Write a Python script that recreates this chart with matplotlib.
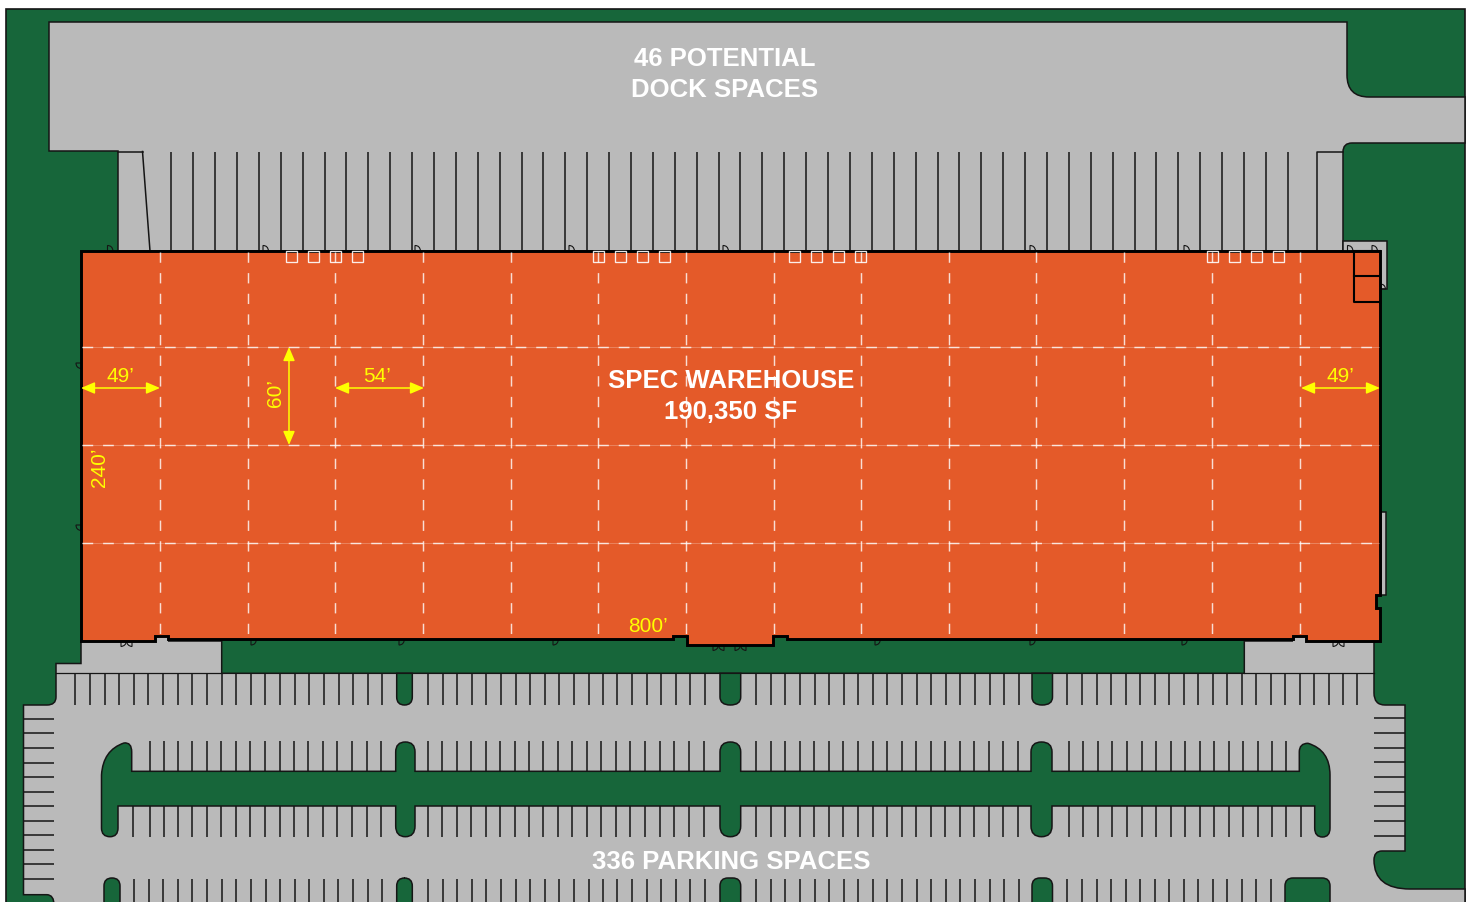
import matplotlib
matplotlib.use("Agg")
import matplotlib.pyplot as plt
from matplotlib.path import Path
from matplotlib.patches import PathPatch, Rectangle

plt.rcParams['font.family'] = ['Liberation Sans', 'DejaVu Sans']
plt.rcParams['lines.scale_dashes'] = False

GREEN = '#17663A'
GRAY = '#BABABA'
ORANGE = '#E45A29'
INK = '#151515'
YELLOW = '#FFFF00'

# dock-door separators along the north wall
dock_x = [171.3, 193.2, 215.1, 237.0, 258.9, 280.8, 302.6, 324.5, 346.4, 368.3, 390.2, 412.1, 434.0,
          455.9, 477.8, 499.7, 521.5, 543.4, 565.3, 587.2, 609.1, 631.0, 652.9, 674.8, 696.7, 718.6,
          740.4, 762.3, 784.2, 806.1, 828.0, 849.9, 871.8, 893.7, 915.6, 937.5, 959.3, 981.2, 1003.1,
          1025.0, 1046.9, 1068.8, 1090.7, 1112.6, 1134.5, 1156.4, 1178.2, 1200.1, 1222.0, 1243.9,
          1265.8, 1287.7]

# parking stall lines
span_b = [428.0, 442.6, 457.2, 471.8, 486.4, 501.0, 515.6, 530.2, 544.8, 559.4, 574.0, 588.6, 602.7,
          617.3, 632.0, 646.7, 661.0, 675.7, 690.3, 705.0]
span_c = [755.7, 770.7, 785.3, 800.0, 814.7, 829.0, 843.7, 858.3, 872.7, 887.3, 901.9, 916.5, 931.1,
          945.7, 960.3, 974.9, 989.5, 1004.1, 1018.7]
north_a = [75.3, 90.0, 104.5, 119.2, 133.8, 148.4, 163.0, 177.6, 192.3, 206.9, 221.5, 236.1, 250.7,
           265.4, 280.0, 294.6, 309.2, 323.8, 338.5, 353.1, 367.7, 382.3]
north_d = [1067.4, 1082.0, 1096.5, 1111.0, 1125.7, 1140.3, 1154.7, 1169.3, 1184.0, 1198.3, 1213.0,
           1227.3, 1242.0, 1256.3, 1271.0, 1285.3, 1299.7, 1314.0, 1328.7, 1343.0, 1357.0]
mid_a = [149.7, 164.0, 178.0, 192.3, 206.7, 221.3, 235.7, 250.3, 265.0, 279.7, 294.0, 308.3, 323.0,
         337.3, 352.0, 366.7, 381.3]
mid_b = [428.0, 442.4, 456.8, 471.3, 485.7, 500.1, 514.5, 529.0, 543.4, 557.8, 572.2, 586.6, 601.0,
         615.7, 630.3, 645.0, 659.7, 674.0, 688.7, 704.0]
mid_c = [755.7, 770.7, 785.3, 800.0, 814.3, 828.7, 843.3, 858.0, 872.7, 887.2, 901.7, 916.2, 930.7,
         945.2, 959.7, 974.2, 988.7, 1003.2, 1017.7]
mid_d = [1068.8, 1083.3, 1097.8, 1112.3, 1126.7, 1141.7, 1156.0, 1170.7, 1185.3, 1199.7, 1214.0,
         1228.7, 1243.3, 1257.7, 1272.3, 1286.0]
south_extra = [133.0, 1300.7]
bottom_a = [134.0, 148.7, 163.3, 178.0, 192.3, 206.7, 221.7, 236.0, 250.7, 265.7, 280.0, 294.7, 309.0,
            323.7, 338.3, 353.0, 367.7, 382.0]
bottom_d = [1067.4, 1082.0, 1096.5, 1111.0, 1125.7, 1140.3, 1154.7, 1169.3, 1184.0, 1198.3, 1213.0,
            1227.3, 1242.0, 1256.3, 1271.0]
west_stall_y = [719.0, 733.3, 748.0, 762.7, 777.0, 791.7, 806.0, 820.7, 835.0, 849.7, 864.0, 878.7]
east_stall_y = [718.3, 733.0, 747.7, 762.3, 777.0, 791.7, 806.3, 821.0, 835.7]

# building structural grid
column_x = [159.5, 247.5, 335.0, 422.7, 510.5, 598.0, 686.0, 773.5, 861.0, 948.5, 1036.0, 1124.0, 1212.0, 1300.0]
column_y = [347.0, 445.0, 543.0]
skylight_x = [286, 308, 330, 352, 593, 615, 637, 659, 789, 811, 833, 855, 1207, 1229, 1251, 1273]

# door swings
top_doors = [107.5, 263, 415, 569, 723, 1030, 1184, 1347.5, 1372]
bottom_doors = [251, 399, 553, 875, 1030, 1182]
west_doors = [363, 525]
double_doors = [121, 713, 735, 1333]

# islands in the parking field
north_islands = [(396.7, 412.3), (720.0, 740.7), (1032.0, 1052.5)]
mid_islands = [(395.7, 415.0), (720.0, 740.7), (1031.0, 1052.0)]
bottom_islands = [(104.0, 120.0), (396.7, 412.3), (720.0, 740.7), (1032.0, 1052.5), (1285.0, 1330.0)]

fig = plt.figure(figsize=(14.73, 9.03), dpi=100)
ax = fig.add_axes([0, 0, 1, 1])
ax.set_xlim(0, 1473)
ax.set_ylim(902, -1)
ax.axis('off')


class P:
    def __init__(self, x, y):
        self.v, self.c = [(x, y)], [Path.MOVETO]

    def l(self, *pts):
        for p in pts:
            self.v.append(p)
            self.c.append(Path.LINETO)
        return self

    def q(self, cx, cy, x, y):
        self.v += [(cx, cy), (x, y)]
        self.c += [Path.CURVE3, Path.CURVE3]
        return self

    def path(self, close=True):
        v, c = list(self.v), list(self.c)
        if close:
            v.append(v[0])
            c.append(Path.CLOSEPOLY)
        return Path(v, c)


def fill(p, color, lw=1.1, z=2, ec=INK):
    ax.add_patch(PathPatch(p.path(), fc=color, ec=ec, lw=lw, zorder=z, joinstyle='miter'))


# site background
ax.add_patch(Rectangle((6, 9), 1459, 900, fc=GREEN, ec=INK, lw=1.2, zorder=1))

# north truck court
court = P(49, 22).l((1347, 22), (1347, 75)).q(1347, 97, 1369, 97).l((1465, 97), (1465, 143), (1352, 143))
court.q(1343, 143, 1343, 152).l((1343, 251), (118, 251), (118, 151), (49, 151))
fill(court, GRAY)

# south parking field
lot = P(81, 641).l((81, 663.5), (56, 663.5), (56, 697)).q(56, 705, 47, 705).l((23.5, 705), (23.5, 894.7), (47, 894.7))
lot.q(54, 895, 54, 905).l((1465, 905), (1465, 889), (1410, 889)).q(1374, 889, 1374, 860).q(1374, 851, 1382, 851)
lot.l((1405, 851), (1405, 705), (1385, 705)).q(1374, 705, 1374, 693)
lot.l((1374, 641), (1244.3, 641), (1244.3, 673.3), (221.7, 673.3), (221.7, 641))
fill(lot, GRAY)
ax.plot([56, 221.7], [673.3, 673.3], color=INK, lw=0.9, zorder=3)
ax.plot([1244.3, 1374], [673.3, 673.3], color=INK, lw=0.9, zorder=3)
# gray floor beneath the two corner canopies
ax.add_patch(Rectangle((155, 635), 13, 8, fc=GRAY, ec='none', zorder=2.5))
ax.add_patch(Rectangle((1292.7, 635), 13.3, 8, fc=GRAY, ec='none', zorder=2.5))

# stall lines
for x in dock_x:
    ax.plot([x, x], [152, 251], color=INK, lw=1.1, zorder=3, solid_capstyle='butt')
ax.plot([142.5, 150], [151.5, 251], color=INK, lw=1.1, zorder=3)
ax.plot([1317, 1317, 1343], [251, 152, 152], color=INK, lw=1.1, zorder=3)
ax.plot([118, 142.5], [151.5, 151.5], color=INK, lw=1.1, zorder=3)
for x in north_a + span_b + span_c + north_d:
    ax.plot([x, x], [673.3, 705], color=INK, lw=1.1, zorder=3, solid_capstyle='butt')
for x in mid_a + mid_b + mid_c + mid_d:
    ax.plot([x, x], [740.7, 771], color=INK, lw=1.1, zorder=3, solid_capstyle='butt')
for x in south_extra + mid_a + mid_b + mid_c + mid_d:
    ax.plot([x, x], [806, 836.7], color=INK, lw=1.1, zorder=3, solid_capstyle='butt')
for x in bottom_a + span_b + span_c + bottom_d:
    ax.plot([x, x], [878.7, 904], color=INK, lw=1.1, zorder=3, solid_capstyle='butt')
for y in west_stall_y:
    ax.plot([24, 54], [y, y], color=INK, lw=1.1, zorder=3, solid_capstyle='butt')
for y in east_stall_y:
    ax.plot([1374, 1405], [y, y], color=INK, lw=1.1, zorder=3, solid_capstyle='butt')

# islands
for a, b in north_islands:
    m = (a + b) / 2
    fill(P(a, 673.3).l((a, 697)).q(a, 705, m, 705).q(b, 705, b, 697).l((b, 673.3)), GREEN, z=4)
for a, b in bottom_islands:
    r = 8
    fill(P(a, 906).l((a, 878 + r)).q(a, 878, a + r, 878).l((b - r, 878)).q(b, 878, b, 878 + r).l((b, 906)), GREEN, z=4)

bar = P(131.7, 771.3)
for a, b in mid_islands:
    m = (a + b) / 2
    bar.l((a, 771.3), (a, 752)).q(a, 742, m, 742).q(b, 742, b, 752).l((b, 771.3))
bar.l((1299.3, 771.3), (1299.3, 752)).q(1299.3, 743.3, 1308, 743.3).q(1330, 750, 1330, 775)
bar.l((1330, 828)).q(1330, 837, 1322.5, 837).q(1314.7, 837, 1314.7, 828).l((1314.7, 806))
for a, b in reversed(mid_islands):
    m = (a + b) / 2
    bar.l((b, 806), (b, 826)).q(b, 836.7, m, 836.7).q(a, 836.7, a, 826).l((a, 806))
bar.l((118, 806), (118, 828)).q(118, 836.7, 110, 836.7).q(101.5, 836.7, 101.5, 828)
bar.l((101.5, 775)).q(103, 750, 124, 743).q(131.7, 742, 131.7, 752)
fill(bar, GREEN, z=4)

# small service pads
ax.add_patch(Rectangle((1342.7, 241.3), 44.3, 47.7, fc=GRAY, ec=INK, lw=1.1, zorder=2))
ax.add_patch(Rectangle((1380.7, 511.7), 5.3, 83.3, fc=GRAY, ec=INK, lw=1.1, zorder=2))

# building
bld = P(81, 251).l((1380, 251), (1380, 595), (1375.5, 595), (1375.5, 608), (1380, 608), (1380, 641), (1306, 641),
                   (1306, 636), (1292.7, 636), (1292.7, 638.5), (787, 638.5), (787, 636), (772.7, 636),
                   (772.7, 645), (686.7, 645), (686.7, 636), (672.7, 636), (672.7, 638.5), (168, 638.5),
                   (168, 636), (155, 636), (155, 641), (81, 641))
fill(bld, ORANGE, lw=2.1, z=6, ec='#000000')

# grid lines
for x in column_x:
    ax.plot([x, x], [252, 638], color='white', lw=1.05, ls=(0, (7.4, 7.45)), alpha=0.8, zorder=7, dash_capstyle='butt')
for y in column_y:
    ax.plot([82, 1379], [y, y], color='white', lw=0.5, alpha=0.35, zorder=7)
    ax.plot([82, 1379], [y, y], color='white', lw=1.05, ls=(0, (7.7, 7.15)), alpha=0.8, zorder=7, dash_capstyle='butt')

for x in skylight_x:
    ax.add_patch(Rectangle((x, 251), 10.7, 10.7, fc='none', ec='white', lw=0.95, alpha=0.9, zorder=8))

# rooms at NE corner
ax.plot([1380, 1354, 1354, 1380], [251, 251, 302, 302], color='#000000', lw=1.5, zorder=8)
ax.plot([1354, 1380], [276, 276], color='#000000', lw=1.5, zorder=8)

# door swings
for x in top_doors:
    d = P(x, 251).l((x, 245.5)).q(x + 5, 245.5, x + 5.5, 251)
    ax.add_patch(PathPatch(d.path(close=False), fc='none', ec=INK, lw=0.8, zorder=5))
for x in bottom_doors:
    d = P(x, 639).l((x, 645)).q(x + 5, 645, x + 5.5, 639)
    ax.add_patch(PathPatch(d.path(close=False), fc='none', ec=INK, lw=0.8, zorder=5))
for y in west_doors:
    d = P(81, y).l((76, y)).q(76, y + 5, 81, y + 5.5)
    ax.add_patch(PathPatch(d.path(close=False), fc='none', ec=INK, lw=0.8, zorder=5))
for x in double_doors:
    y0 = 645 if x in (713, 735) else 641
    d1 = P(x, y0).l((x, y0 + 5.5)).q(x + 5, y0 + 5, x + 5.5, y0)
    d2 = P(x + 11, y0).l((x + 11, y0 + 5.5)).q(x + 6, y0 + 5, x + 5.5, y0)
    for d in (d1, d2):
        ax.add_patch(PathPatch(d.path(close=False), fc='none', ec=INK, lw=0.8, zorder=5))
d = P(1380, 284).q(1385, 284, 1385.5, 289).l((1380, 289))
ax.add_patch(PathPatch(d.path(close=False), fc='none', ec=INK, lw=0.8, zorder=5))

# white labels
white = dict(color='white', fontweight='bold', fontsize=18.5, ha='center', va='center', zorder=10)
ax.text(724.5, 58, '46 POTENTIAL', **white)
ax.text(724.5, 89, 'DOCK SPACES', **white)
ax.text(731, 380, 'SPEC WAREHOUSE', **white)
ax.text(731, 411, '190,350 SF', **white)
ax.text(731, 861, '336 PARKING SPACES', **white)

# dimensions
yel = dict(color=YELLOW, fontsize=15, ha='center', va='center', zorder=10)
ax.text(120, 375, '49’', **yel)
ax.text(377, 375, '54’', **yel)
ax.text(1340, 375, '49’', **yel)
ax.text(648, 626, '800’', **yel)
ax.text(276, 392, '60’', rotation=90, **yel)
ax.text(100, 466, '240’', rotation=90, **yel)


def dim(x0, y0, x1, y1):
    ax.annotate('', xy=(x1, y1), xytext=(x0, y0), zorder=9,
                arrowprops=dict(arrowstyle='<|-|>,head_length=0.75,head_width=0.32', color=YELLOW, lw=1.1,
                                shrinkA=0, shrinkB=0, mutation_scale=11))


dim(81, 388, 160, 388)
dim(335, 388, 424, 388)
dim(1301, 388, 1380, 388)
dim(289, 347, 289, 445)

fig.savefig('out.png', dpi=100)
